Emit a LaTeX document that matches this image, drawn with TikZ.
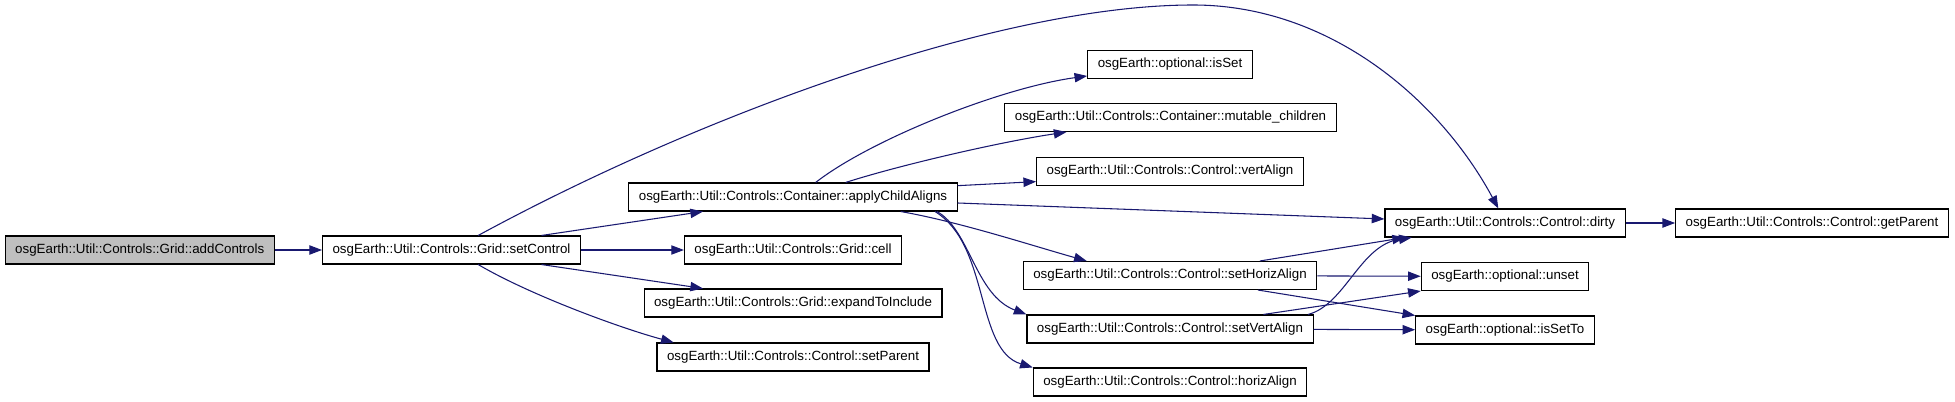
\documentclass[tikz,border=0pt]{standalone}
\usepackage{fontspec}
\setmainfont{Liberation Sans}
\usetikzlibrary{positioning,arrows.meta}
\definecolor{callblue}{RGB}{25, 25, 112}
\definecolor{rootgray}{RGB}{191, 191, 191}

\begin{document}
\begin{tikzpicture}[x=0.75pt, y=-0.75pt,
        fn node/.style={rectangle, draw=black, line width=0.8pt, font=\fontsize{10}{12}\selectfont, minimum height=21pt, inner xsep=7.5pt, inner ysep=0pt},
        root node/.style={fn node, fill=rootgray},
        call/.style={draw=callblue, line width=0.8pt, -{Triangle[length=9.5pt, width=7pt]}}]

            \useasboundingbox (0, 0) rectangle (1955, 402);

            \node[root node] (addctl) at (139.7, 250) {osgEarth::Util::Controls::Grid::addControls};
            \node[fn node] (setctl) at (451.5, 250) {osgEarth::Util::Controls::Grid::setControl};
            \node[fn node] (apply) at (793, 197) {osgEarth::Util::Controls::Container::applyChildAligns};
            \node[fn node] (cell) at (793, 250) {osgEarth::Util::Controls::Grid::cell};
            \node[fn node] (expand) at (793, 303) {osgEarth::Util::Controls::Grid::expandToInclude};
            \node[fn node] (setparent) at (793, 357) {osgEarth::Util::Controls::Control::setParent};
            \node[fn node] (isset) at (1170, 64.5) {osgEarth::optional::isSet};
            \node[fn node] (mutable) at (1170.5, 117.5) {osgEarth::Util::Controls::Container::mutable\_children};
            \node[fn node] (vertalign) at (1170, 171.5) {osgEarth::Util::Controls::Control::vertAlign};
            \node[fn node] (sethoriz) at (1170, 275.5) {osgEarth::Util::Controls::Control::setHorizAlign};
            \node[fn node] (setvert) at (1170, 329) {osgEarth::Util::Controls::Control::setVertAlign};
            \node[fn node] (horizalign) at (1170, 382) {osgEarth::Util::Controls::Control::horizAlign};
            \node[fn node] (dirty) at (1505, 223) {osgEarth::Util::Controls::Control::dirty};
            \node[fn node] (unset) at (1505, 276.5) {osgEarth::optional::unset};
            \node[fn node] (issetto) at (1505, 330) {osgEarth::optional::isSetTo};
            \node[fn node] (getparent) at (1812, 223) {osgEarth::Util::Controls::Control::getParent};

            % Calls made by addControls and setControl
            \path
                (addctl) edge[call] (setctl)
                (setctl) edge[call] (cell)
                ([xshift=67.5pt]setctl.north) edge[call] ([xshift=-67.5pt]apply.south)
                ([xshift=67.5pt]setctl.south) edge[call] ([xshift=-67.5pt]expand.north);
            \draw[call] ([xshift=20pt]setctl.south) .. controls (530, 295) and (620, 328) .. ([xshift=-89.5pt]setparent.north);
            \draw[call] ([xshift=20pt]setctl.north) .. controls (700, 115) and (1000, 5) .. (1193, 5)
                .. controls (1330, 5) and (1440, 100) .. ([xshift=-5pt]dirty.north);

            % Calls made by applyChildAligns
            \draw[call] ([xshift=17pt]apply.north) .. controls (870, 140) and (1000, 88) .. ([yshift=-8.6pt]isset.west);
            \draw[call] ([xshift=39.5pt]apply.north) .. controls (900, 165) and (1000, 142) .. ([xshift=-78pt]mutable.south);
            \path
                ([yshift=8.5pt]apply.east) edge[call] ([yshift=-7.6pt]vertalign.west)
                ([yshift=-4.5pt]apply.east) edge[call] ([yshift=3pt]dirty.west);
            \draw[call] ([xshift=80.8pt]apply.south) .. controls (960, 222) and (1030, 245) .. ([xshift=-62.5pt]sethoriz.north);
            \draw[call] ([xshift=108pt]apply.south) .. controls (970, 230) and (975, 295) .. (setvert.north west);
            \draw[call] ([xshift=106.5pt]apply.south) .. controls (990, 245) and (975, 350) .. (horizalign.north west);

            % Calls made by the two setters
            \path
                ([xshift=67.5pt]sethoriz.north) edge[call] ([xshift=-75pt]dirty.south)
                (sethoriz) edge[call] (unset)
                ([xshift=66pt]sethoriz.south) edge[call] (issetto.north west)
                ([xshift=70pt]setvert.north) edge[call] (unset.south west)
                (setvert) edge[call] (issetto);
            \draw[call] ([xshift=103.5pt]setvert.north) .. controls (1345, 305) and (1360, 245) .. ([xshift=-70pt]dirty.south);

            % Last call
            \path (dirty) edge[call] (getparent);

    \end{tikzpicture}
\end{document}
